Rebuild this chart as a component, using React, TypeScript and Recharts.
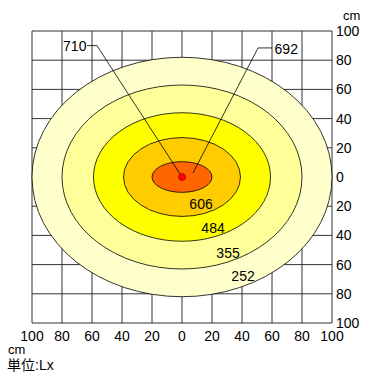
import {
  ScatterChart,
  Scatter,
  XAxis,
  YAxis,
  CartesianGrid,
  ReferenceArea,
  ReferenceLine,
  ReferenceDot,
} from "recharts";

const FONT = "'Liberation Sans', Arial, 'Noto Sans CJK JP', sans-serif";

// axis ticks in cm (shown as absolute distance from center)
const AXIS_TICKS = [-100, -80, -60, -40, -20, 0, 20, 40, 60, 80, 100];

// illuminance zones, outer to inner
const ZONE_LUX = [252, 355, 484, 606, 692];
const ZONE_RX = [100, 80, 59, 39, 20];
const ZONE_RY = [82, 63, 44, 27, 10.5];
const ZONE_COLORS = ["#ffffcc", "#ffff99", "#ffff00", "#ffcc00", "#ff6600"];

// value labels written on the lower right of each ring
const RING_LABEL_X = [40.7, 30.7, 20.7, 12.7];
const RING_LABEL_Y = [-67.8, -52, -34.9, -18.5];
const RING_LABEL_TEXT = ["252", "355", "484", "606"];

// call-out labels with leader lines
const CENTER_LUX = 710;
const CALLOUT_TEXT = [String(CENTER_LUX), String(ZONE_LUX[4])];
const CALLOUT_X = [-71.5, 69.5];
const CALLOUT_Y = [89.8, 87.8];
const LEADER_START_X = [-63.3, 60];
const LEADER_ELBOW_X = [-56.7, 50.7];
const LEADER_Y = [90, 88.4];
const LEADER_END_X = [0, 7.3];
const LEADER_END_Y = [0, 2.7];

const ringLabels = RING_LABEL_TEXT.map((t, i) => ({
  x: RING_LABEL_X[i],
  y: RING_LABEL_Y[i],
  text: t,
}));
const callouts = CALLOUT_TEXT.map((t, i) => ({
  x: CALLOUT_X[i],
  y: CALLOUT_Y[i],
  text: t,
}));

const TextShape = (props: any) => (
  <text
    x={props.cx}
    y={props.cy}
    textAnchor="middle"
    dominantBaseline="central"
    fontSize={14}
    fontFamily={FONT}
    fill="#000"
  >
    {props.payload.text}
  </text>
);

const EllipseShape = (fill: string) => (props: any) => (
  <ellipse
    cx={props.x + props.width / 2}
    cy={props.y + props.height / 2}
    rx={props.width / 2}
    ry={props.height / 2}
    fill={fill}
    stroke="#000"
    strokeWidth={0.8}
  />
);

export default function App() {
  return (
    <div
      style={{
        position: "absolute",
        left: 0,
        top: 0,
        width: 379,
        height: 387,
        background: "#fff",
        fontFamily: FONT,
      }}
    >
      <ScatterChart
        width={379}
        height={387}
        margin={{ top: 31, right: 0, left: 32, bottom: 0 }}
      >
        <CartesianGrid stroke="#333" strokeWidth={1} />
        <XAxis
          type="number"
          dataKey="x"
          domain={[-100, 100]}
          ticks={AXIS_TICKS}
          tickFormatter={(v: number) => String(Math.abs(v))}
          axisLine={false}
          tickLine={false}
          tickSize={0}
          tickMargin={8}
          height={64}
          interval={0}
          tick={{ fontSize: 14, fill: "#000", fontFamily: FONT }}
        />
        <YAxis
          type="number"
          dataKey="y"
          orientation="right"
          domain={[-100, 100]}
          ticks={AXIS_TICKS}
          tickFormatter={(v: number) => String(Math.abs(v))}
          axisLine={false}
          tickLine={false}
          tickSize={0}
          tickMargin={4}
          width={47}
          interval={0}
          tick={{ fontSize: 14, fill: "#000", fontFamily: FONT }}
        />
        {ZONE_LUX.map((lux, i) => (
          <ReferenceArea
            key={lux}
            x1={-ZONE_RX[i]}
            x2={ZONE_RX[i]}
            y1={-ZONE_RY[i]}
            y2={ZONE_RY[i]}
            shape={EllipseShape(ZONE_COLORS[i])}
          />
        ))}
        {CALLOUT_TEXT.map((t, i) => (
          <ReferenceLine
            key={"h" + t}
            segment={[
              { x: LEADER_START_X[i], y: LEADER_Y[i] },
              { x: LEADER_ELBOW_X[i], y: LEADER_Y[i] },
            ]}
            stroke="#000"
            strokeWidth={0.8}
          />
        ))}
        {CALLOUT_TEXT.map((t, i) => (
          <ReferenceLine
            key={"d" + t}
            segment={[
              { x: LEADER_ELBOW_X[i], y: LEADER_Y[i] },
              { x: LEADER_END_X[i], y: LEADER_END_Y[i] },
            ]}
            stroke="#000"
            strokeWidth={0.8}
          />
        ))}
        <ReferenceDot x={0} y={0} r={3.5} fill="#ff0000" stroke="#b00000" strokeWidth={0.8} />
        <Scatter data={ringLabels} shape={TextShape} isAnimationActive={false} />
        <Scatter data={callouts} shape={TextShape} isAnimationActive={false} />
      </ScatterChart>
      <div style={{ position: "absolute", left: 343, top: 9, fontSize: 13, lineHeight: "13px" }}>
        cm
      </div>
      <div style={{ position: "absolute", left: 8, top: 343, fontSize: 13, lineHeight: "13px" }}>
        cm
      </div>
      <div style={{ position: "absolute", left: 7, top: 357, fontSize: 14, lineHeight: "16px" }}>
        単位:Lx
      </div>
    </div>
  );
}
